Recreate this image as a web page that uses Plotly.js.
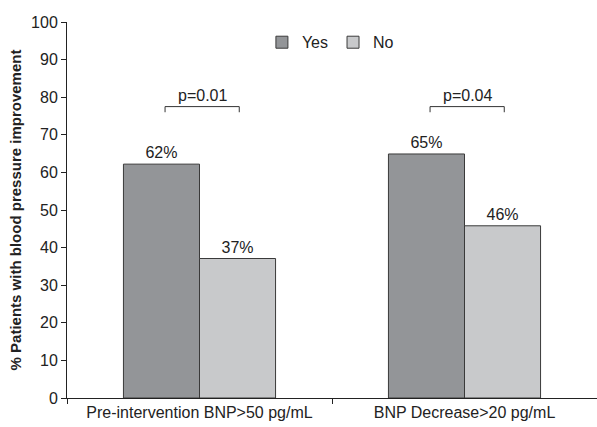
<!DOCTYPE html>
<html>
<head>
<meta charset="utf-8">
<script src="https://cdn.plot.ly/plotly-3.0.1.min.js"></script>
<style>html,body{margin:0;padding:0;background:#fff;}#chart{width:597px;height:427px;}</style>
</head>
<body>
<div id="chart"></div>
<script>
var categories = ["Pre-intervention BNP>50 pg/mL", "BNP Decrease>20 pg/mL"];
var yesValues = [62.2, 64.9];
var noValues = [37.1, 45.8];
var yesLabels = ["62%", "65%"];
var noLabels = ["37%", "46%"];
var pLabels = ["p=0.01", "p=0.04"];
var bracketY = [77.5, 77.5];

var font = "Liberation Sans, Arial, sans-serif";

var traces = [
  {type: "bar", name: "Yes", x: categories, y: yesValues, text: yesLabels,
   textposition: "outside", cliponaxis: false, textfont: {size: 16, color: "#222"},
   marker: {color: "#939598", line: {color: "#3a3a3a", width: 1}}},
  {type: "bar", name: "No", x: categories, y: noValues, text: noLabels,
   textposition: "outside", cliponaxis: false, textfont: {size: 16, color: "#222"},
   marker: {color: "#c8c9cb", line: {color: "#3a3a3a", width: 1}}}
];

var shapes = [];
var annotations = [];
categories.forEach(function (c, i) {
  var x0 = i - 0.13, x1 = i + 0.15, y = bracketY[i];
  var ln = {color: "#333", width: 1};
  shapes.push({type: "line", xref: "x", yref: "y", x0: x0, x1: x1, y0: y, y1: y, line: ln});
  shapes.push({type: "line", xref: "x", yref: "y", x0: x0, x1: x0, y0: y, y1: y - 1.5, line: ln});
  shapes.push({type: "line", xref: "x", yref: "y", x0: x1, x1: x1, y0: y, y1: y - 1.5, line: ln});
  annotations.push({xref: "x", yref: "y", x: i + 0.01, y: y, yanchor: "bottom", yshift: 1,
    text: pLabels[i], showarrow: false, font: {size: 16, color: "#222"}});
});

var layout = {
  width: 597, height: 427,
  margin: {l: 67, r: 0, t: 22, b: 29},
  paper_bgcolor: "#fff", plot_bgcolor: "#fff",
  font: {family: font, size: 16, color: "#222"},
  barmode: "group", bargap: 0.426, bargroupgap: 0,
  showlegend: true,
  legend: {orientation: "h", x: 0.497, y: 0.946, xanchor: "center", yanchor: "middle",
    font: {size: 16}, itemwidth: 30, bgcolor: "rgba(0,0,0,0)"},
  xaxis: {type: "category", showline: true, linecolor: "#222", linewidth: 1,
    ticks: "outside", tickson: "boundaries", ticklen: 5, tickcolor: "#222",
    showgrid: false, zeroline: false, tickfont: {size: 16}, automargin: false},
  yaxis: {range: [0, 100], dtick: 10, showline: true, linecolor: "#222", linewidth: 1,
    ticks: "outside", ticklen: 5, tickcolor: "#222", showgrid: false, zeroline: false,
    tickfont: {size: 16}, automargin: false,
    title: {text: "<b>% Patients with blood pressure improvement</b>", font: {size: 15}, standoff: 5}},
  shapes: shapes, annotations: annotations
};

Plotly.newPlot("chart", traces, layout, {displayModeBar: false, staticPlot: true});
</script>
</body>
</html>
